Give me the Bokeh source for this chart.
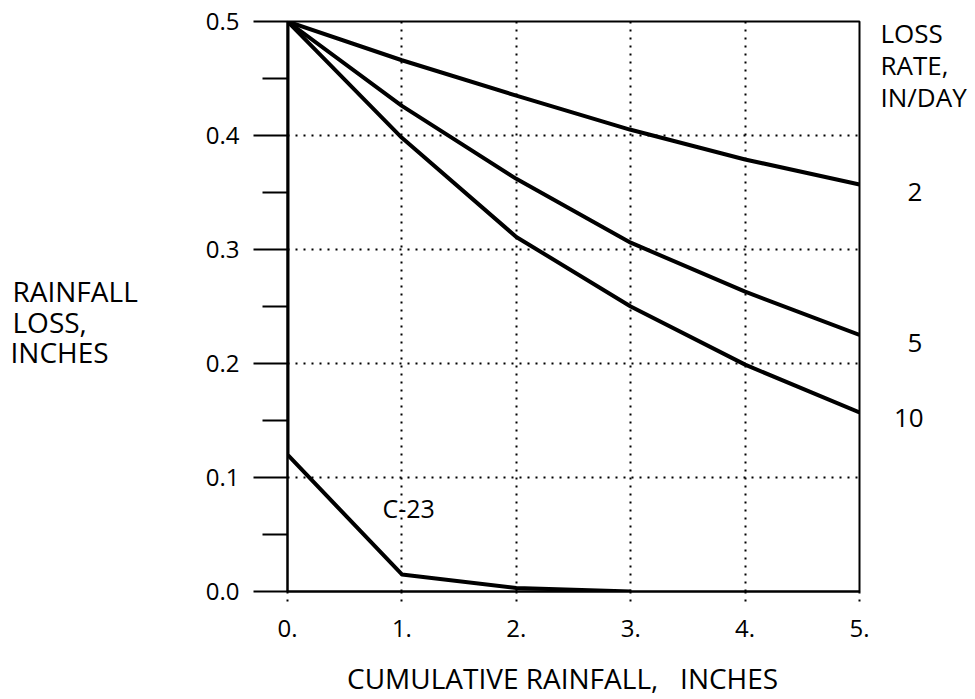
from bokeh.plotting import figure
from bokeh.models import FixedTicker, Range1d, LinearAxis
from bokeh.core.properties import value
from bokeh.embed import file_html
from bokeh.resources import INLINE

# ---- data ----
rainfall = [0, 1, 2, 3, 4, 5]
loss_rate_2 = [0.5, 0.466, 0.435, 0.405, 0.379, 0.357]
loss_rate_5 = [0.5, 0.426, 0.362, 0.306, 0.263, 0.225]
loss_rate_10 = [0.5, 0.398, 0.311, 0.250, 0.199, 0.157]
c23_x = [0, 0, 1, 2, 3]
c23_y = [0.5, 0.12, 0.015, 0.003, 0.0]

x_ticks = [0, 1, 2, 3, 4, 5]
x_tick_labels = ["0.", "1.", "2.", "3.", "4.", "5."]
y_ticks = [0.0, 0.1, 0.2, 0.3, 0.4, 0.5]
y_tick_labels = ["0.0", "0.1", "0.2", "0.3", "0.4", "0.5"]
y_minor_ticks = [0.05, 0.15, 0.25, 0.35, 0.45]
x_grid = [1, 2, 3, 4]
y_grid = [0.1, 0.2, 0.3, 0.4]

# right-hand annotations (placed as labels of a bare right axis)
right_label_y = [0.4895, 0.4615, 0.4335, 0.351, 0.219, 0.153]
right_label_text = ["LOSS", "RATE,", "IN/DAY", "2", "5", "10"]
right_label_pad = [0, 0, 0, 4, 4, 2]

# left title lines and the non-breaking padding that left-aligns them
left_title = ["RAINFALL", "LOSS,", "INCHES"]
left_title_pad = [0, 7, 4]

FONT = "Open Sans"
NB = "\u00a0"

p = figure(width=975, height=699, output_backend="svg", toolbar_location=None,
           x_range=Range1d(0, 5), y_range=Range1d(0, 0.5),
           min_border_left=287, min_border_right=116,
           min_border_top=21, min_border_bottom=107)
p.background_fill_color = "white"
p.border_fill_color = "white"
p.outline_line_color = "black"
p.outline_line_width = 2

# bottom axis
xa = p.xaxis[0]
xa.ticker = FixedTicker(ticks=x_ticks, minor_ticks=[])
xa.major_label_overrides = {t: l for t, l in zip(x_ticks, x_tick_labels)}
xa.axis_line_width = 2
xa.major_tick_in = 0
xa.major_tick_out = 10
xa.major_tick_line_width = 2
xa.major_tick_line_dash = "2 6"
xa.minor_tick_line_color = None
xa.major_label_standoff = 18
xa.major_label_text_font = FONT
xa.major_label_text_font_size = "24px"
xa.major_label_text_color = "black"
xa.axis_label = "CUMULATIVE RAINFALL," + NB * 3 + "INCHES" + NB * 3
xa.axis_label_text_font = FONT
xa.axis_label_text_font_size = "28px"
xa.axis_label_text_font_style = "normal"
xa.axis_label_text_color = "black"
xa.axis_label_standoff = 19

# left axis
ya = p.yaxis[0]
ya.ticker = FixedTicker(ticks=y_ticks, minor_ticks=y_minor_ticks)
ya.major_label_overrides = {t: l for t, l in zip(y_ticks, y_tick_labels)}
ya.axis_line_width = 2
ya.major_tick_in = 0
ya.major_tick_out = 34
ya.major_tick_line_width = 2
ya.minor_tick_in = 0
ya.minor_tick_out = 25
ya.minor_tick_line_width = 2
ya.major_label_standoff = 14
ya.major_label_text_font = FONT
ya.major_label_text_font_size = "24px"
ya.major_label_text_color = "black"
ya.axis_label = "\n".join([NB] + [t + NB * n for t, n in zip(left_title, left_title_pad)])
ya.axis_label_orientation = "horizontal"
ya.axis_label_text_font = FONT
ya.axis_label_text_font_size = "28px"
ya.axis_label_text_font_style = "normal"
ya.axis_label_text_color = "black"
ya.axis_label_text_line_height = 0.8
ya.axis_label_standoff = 65

# right bare axis carrying the curve annotations
ra = LinearAxis(ticker=FixedTicker(ticks=right_label_y, minor_ticks=[]))
ra.major_label_overrides = {y: NB * n + t for y, t, n in
                            zip(right_label_y, right_label_text, right_label_pad)}
ra.axis_line_color = None
ra.major_tick_line_color = None
ra.minor_tick_line_color = None
ra.major_tick_in = 0
ra.major_tick_out = 0
ra.major_label_standoff = 21
ra.major_label_text_font = FONT
ra.major_label_text_font_size = "26px"
ra.major_label_text_color = "black"
p.add_layout(ra, "right")

# grid
p.xgrid.ticker = FixedTicker(ticks=x_grid)
p.ygrid.ticker = FixedTicker(ticks=y_grid)
for g in (p.xgrid[0], p.ygrid[0]):
    g.grid_line_color = "black"
    g.grid_line_width = 2
    g.grid_line_dash = "2 6"

# curves
for ys in (loss_rate_2, loss_rate_5, loss_rate_10):
    p.line(rainfall, ys, line_color="black", line_width=4, line_join="round")
p.line(c23_x, c23_y, line_color="black", line_width=4, line_join="round")

p.text(x=[0.83], y=[0.0736], text=["C-23"], text_font=value(FONT),
       text_font_size="25px", text_baseline="middle", text_align="left",
       text_color="black")

open("out.html", "w").write(file_html(p, INLINE))
